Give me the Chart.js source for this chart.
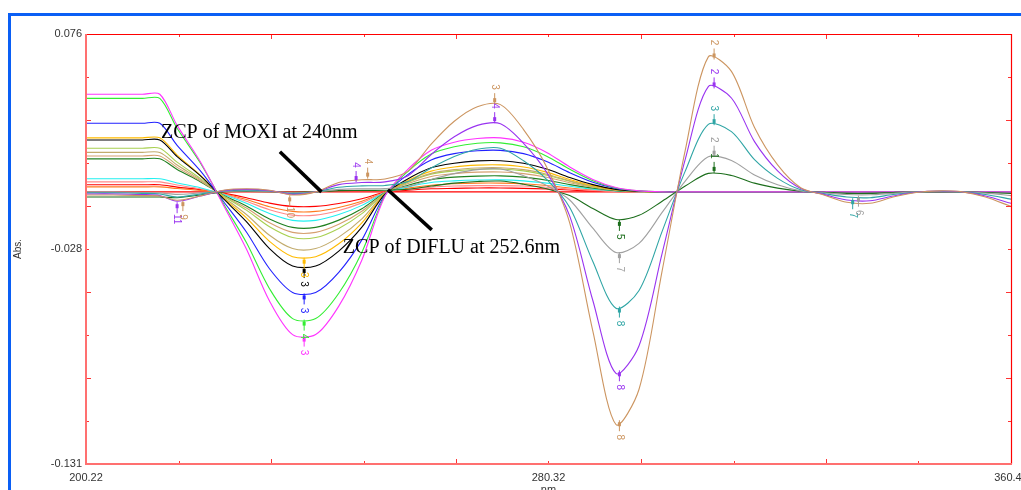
<!DOCTYPE html>
<html>
<head>
<meta charset="utf-8">
<script src="https://cdn.jsdelivr.net/npm/chart.js@4.4.1/dist/chart.umd.min.js"></script>
<style>
  html, body { margin: 0; padding: 0; background: #fff; overflow: hidden; }
  #wrap { position: relative; width: 1021px; height: 500px; }
</style>
</head>
<body>
<div id="wrap"><canvas id="chart" width="1021" height="500"></canvas></div>
<script>
// wavelength grid (nm)
const wavelengths = [200.22, 205, 210, 213, 216, 220, 224, 228, 232, 236, 240, 244, 248, 252, 256, 260, 264, 268, 272, 276,
  280, 284, 288, 292, 296, 300, 304, 308, 312, 316, 320, 324, 328, 332, 336, 340, 344, 348, 352, 356, 360.42];

const xTickValues = [200.22, 280.32, 360.42];
const xTickLabels = ['200.22', '280.32', '360.42'];
const yTickValues = [0.076, -0.0275, -0.131];
const yTickLabels = ['0.076', '-0.028', '-0.131'];

// MOXI derivative spectra
const moxiTan = [-.0015, -.0015, -.0018, -.002, -.004, -.002, .0008, .0015, .0008, -.0015, 0, .0045, .0058, .0062, .010, .023, .034, .041, .042, .030,
  .012, -.015, -.067, -.112, -.095, -.038, .020, .065, .058, .031, .013, .002, -.0015, -.005, -.0055, -.0025, -.0003, .0005, 0, -.0025, -.007];
const moxiPurple = [-.001, -.001, -.0013, -.0018, -.0045, -.002, .0006, .0012, .0006, -.0012, 0, .0035, .0045, .0048, .0078, .018, .0265, .032, .0328, .0234,
  .0094, -.0117, -.0523, -.0874, -.0741, -.0296, .0156, .0507, .0452, .0242, .0101, .0016, -.0012, -.0039, -.0043, -.002, -.0002, .0004, 0, -.002, -.0055];
const moxiTeal = [-.0005, -.0005, -.0007, -.001, -.0025, -.001, .0004, .0008, .0004, -.0008, 0, .0022, .0029, .0031, .005, .0115, .017, .0205, .021, .015,
  .006, -.0075, -.0335, -.056, -.0475, -.019, .010, .0325, .029, .0155, .0065, .001, -.0008, -.0025, -.0028, -.0013, -.0002, .0003, 0, -.0013, -.0035];
const moxiGray = [0, 0, -.0003, -.0005, -.0012, -.0005, .0002, .0004, .0002, -.0004, 0, .0012, .0015, .0016, .0026, .006, .0088, .0107, .011, .0078,
  .0031, -.0039, -.0175, -.0292, -.0248, -.0099, .0052, .0169, .0151, .0081, .0034, .0005, -.0004, -.0013, -.0014, -.0007, 0, .0001, 0, -.0006, -.0018];
const moxiDkGreen = [-.0025, -.0025, -.0025, -.0025, -.0028, -.0015, 0, .0002, .0001, -.0002, 0, .0006, .0007, .0008, .0013, .0028, .0042, .005, .0052, .0037,
  .0015, -.0018, -.008, -.0133, -.0113, -.0045, .0028, .0089, .0079, .0042, .0018, .0003, -.0002, -.0007, -.0007, -.0003, 0, 0, 0, -.0003, -.0008];

// DIFLU derivative spectra
const diMagenta = [.047, .047, .047, .047, .032, .0146, -.0063, -.0275, -.0525, -.0687, -.0687, -.055, -.0328, -.0021, .0109, .020, .0239, .0257, .026, .0239,
  .019, .012, .006, .0021, .0005, 0, 0, 0, 0, 0, 0, 0, 0, 0, 0, 0, 0, 0, 0, 0, 0];
const diGreen = [.045, .045, .045, .045, .0306, .014, -.0056, -.0244, -.0466, -.061, -.061, -.0488, -.0291, -.0019, .0099, .0182, .0217, .0234, .0236, .0217,
  .0172, .0109, .0054, .0019, .0005, 0, 0, 0, 0, 0, 0, 0, 0, 0, 0, 0, 0, 0, 0, 0, 0];
const diBlue = [.033, .033, .033, .033, .0224, .0102, -.0045, -.0193, -.037, -.0484, -.0484, -.0387, -.0231, -.0015, .0084, .0154, .0184, .0198, .020, .0184,
  .0146, .0092, .0046, .0016, .0004, 0, 0, 0, 0, 0, 0, 0, 0, 0, 0, 0, 0, 0, 0, 0, 0];
const diGold = [.026, .026, .026, .026, .0177, .0081, -.0029, -.0125, -.0238, -.0312, -.0312, -.025, -.0149, -.001, .0055, .010, .012, .0129, .013, .012,
  .0095, .006, .003, .001, .0003, 0, 0, 0, 0, 0, 0, 0, 0, 0, 0, 0, 0, 0, 0, 0, 0];
const diBlack = [.025, .025, .025, .025, .017, .0078, -.0033, -.0143, -.0273, -.0357, -.0357, -.0285, -.017, -.0011, .0063, .0116, .0138, .0149, .015, .0138,
  .011, .0069, .0035, .0012, .0003, 0, 0, 0, 0, 0, 0, 0, 0, 0, 0, 0, 0, 0, 0, 0, 0];
const diKhaki = [.019, .019, .019, .019, .0129, .0059, -.0025, -.0109, -.0209, -.0273, -.0273, -.0218, -.013, -.0008, .0049, .0089, .0107, .0115, .0116, .0107,
  .0085, .0053, .0027, .0009, .0002, 0, 0, 0, 0, 0, 0, 0, 0, 0, 0, 0, 0, 0, 0, 0, 0];
const diYellowGreen = [.021, .021, .021, .021, .0143, .0065, -.002, -.0088, -.0168, -.022, -.022, -.0176, -.0105, -.0007, .0046, .0085, .0101, .0109, .011, .0101,
  .008, .0051, .0025, .0009, .0002, 0, 0, 0, 0, 0, 0, 0, 0, 0, 0, 0, 0, 0, 0, 0, 0];
const diTan = [.0173, .0173, .0173, .0173, .0118, .0054, -.0018, -.0078, -.0149, -.0195, -.0195, -.0156, -.0093, -.0006, .004, .0074, .0088, .0095, .0096, .0088,
  .007, .0044, .0022, .0008, .0002, 0, 0, 0, 0, 0, 0, 0, 0, 0, 0, 0, 0, 0, 0, 0, 0];
const diDkGreen = [.0159, .0159, .0159, .0159, .0108, .0049, -.0016, -.0068, -.013, -.0171, -.0171, -.0136, -.0081, -.0005, .0032, .0059, .0071, .0076, .0077, .0071,
  .0056, .0035, .0018, .0006, .0002, 0, 0, 0, 0, 0, 0, 0, 0, 0, 0, 0, 0, 0, 0, 0, 0];
const diCyan = [.0063, .0063, .0063, .0063, .0043, .002, -.0013, -.0055, -.0104, -.0137, -.0137, -.0109, -.0065, -.0004, .0024, .0045, .0053, .0057, .0058, .0053,
  .0042, .0027, .0013, .0005, .0001, 0, 0, 0, 0, 0, 0, 0, 0, 0, 0, 0, 0, 0, 0, 0, 0];
const diSalmon = [.0048, .0048, .0048, .0048, .0033, .0015, -.001, -.0045, -.0086, -.0112, -.0112, -.009, -.0053, -.0003, .0013, .0023, .0028, .003, .003, .0028,
  .0022, .0014, .0007, .0002, 0, 0, 0, 0, 0, 0, 0, 0, 0, 0, 0, 0, 0, 0, 0, 0, 0];
const diOrange = [.0024, .0024, .0024, .0024, .0016, .0007, -.0009, -.0037, -.0072, -.0094, -.0094, -.0075, -.0045, -.0003, .0018, .0032, .0039, .0042, .0042, .0039,
  .0031, .0019, .001, .0003, .0001, 0, 0, 0, 0, 0, 0, 0, 0, 0, 0, 0, 0, 0, 0, 0, 0];
const diRed = [.0034, .0034, .0034, .0034, .0023, .0011, -.0006, -.0028, -.0054, -.007, -.007, -.0056, -.0033, -.0002, .0008, .0015, .0017, .0019, .0019, .0017,
  .0014, .0009, .0004, .0002, 0, 0, 0, 0, 0, 0, 0, 0, 0, 0, 0, 0, 0, 0, 0, 0, 0];
const blank = [0, 0, 0, 0, 0, 0, 0, 0, 0, 0, 0, 0, 0, 0, 0, 0, 0, 0, 0, 0,
  0, 0, 0, 0, 0, 0, 0, 0, 0, 0, 0, 0, 0, 0, 0, 0, 0, 0, 0, 0, 0];

// first entry is drawn on top
const series = [
  ['moxiTan', moxiTan, '#cc9560'],
  ['moxiPurple', moxiPurple, '#9933f0'],
  ['moxiTeal', moxiTeal, '#2fa5a5'],
  ['moxiGray', moxiGray, '#a0a0a0'],
  ['moxiDkGreen', moxiDkGreen, '#1c6e1c'],
  ['diMagenta', diMagenta, '#ff33ff'],
  ['diGreen', diGreen, '#33ee33'],
  ['diBlue', diBlue, '#2222ff'],
  ['diBlack', diBlack, '#000000'],
  ['diGold', diGold, '#ffbb00'],
  ['diKhaki', diKhaki, '#c2ab6c'],
  ['diYellowGreen', diYellowGreen, '#a8d050'],
  ['diTan', diTan, '#d6a070'],
  ['diDkGreen', diDkGreen, '#208020'],
  ['diCyan', diCyan, '#22f0f0'],
  ['diSalmon', diSalmon, '#ff8a8a'],
  ['diOrange', diOrange, '#ff7a20'],
  ['diRed', diRed, '#ff0000'],
  ['blank', blank, '#ff0000']
];

// peak-pick labels: series, wavelength, label, 1 = peak / -1 = valley
const pickMarks = [
  ['moxiTan', 309, '2', 1], ['moxiPurple', 309, '2', 1], ['moxiTeal', 309, '3', 1], ['moxiGray', 309, '2', 1], ['moxiDkGreen', 309, '1', 1],
  ['moxiTan', 292.6, '8', -1], ['moxiPurple', 292.6, '8', -1], ['moxiTeal', 292.6, '8', -1], ['moxiGray', 292.6, '7', -1], ['moxiDkGreen', 292.6, '5', -1],
  ['moxiTan', 271, '3', 1], ['moxiPurple', 271, '4', 1],
  ['moxiPurple', 216, '11', -1], ['moxiTan', 217, '9', -1],
  ['moxiPurple', 247, '4', 1], ['moxiTan', 249, '4', 1],
  ['moxiTan', 235.5, '10', -1],
  ['moxiTeal', 333, '7', -1], ['moxiGray', 334, '6', -1],
  ['diMagenta', 238, '3', -1], ['diGreen', 238, '4', -1], ['diBlue', 238, '3', -1], ['diBlack', 238, '3', -1], ['diGold', 238, '3', -1]
];

// zero crossing notes
const zcpNotes = [
  ['ZCP of MOXI at 240nm', 213.2, 0.026],
  ['ZCP of DIFLU at 252.6nm', 244.7, -0.0294]
];
const zcpPointers = [
  [233.8, 0.0193, 241.0, 0],
  [252.5, 0.001, 260.1, -0.0183]
];

function valueAt(vals, nm) {
  for (let i = 0; i < wavelengths.length - 1; i++) {
    if (nm >= wavelengths[i] && nm <= wavelengths[i + 1]) {
      const t = (nm - wavelengths[i]) / (wavelengths[i + 1] - wavelengths[i]);
      return vals[i] + (vals[i + 1] - vals[i]) * t;
    }
  }
  return 0;
}

const framePlugin = {
  id: 'frame',
  afterDatasetsDraw(chart) {
    const {ctx, chartArea: a, scales} = chart;
    ctx.save();
    // inward ticks
    ctx.strokeStyle = '#ff3333';
    ctx.lineWidth = 1;
    for (let i = 1; i < 10; i++) {
      const len = i % 2 === 0 ? 5 : 3;
      const x = Math.round(scales.x.getPixelForValue(200.22 + 16.02 * i)) + 0.5;
      const y = Math.round(scales.y.getPixelForValue(0.076 - 0.0207 * i)) + 0.5;
      ctx.beginPath();
      ctx.moveTo(x, a.bottom); ctx.lineTo(x, a.bottom - len);
      ctx.moveTo(x, a.top); ctx.lineTo(x, a.top + len);
      ctx.moveTo(a.left, y); ctx.lineTo(a.left + len, y);
      ctx.moveTo(a.right, y); ctx.lineTo(a.right - len, y);
      ctx.stroke();
    }
    // top and right border
    ctx.strokeStyle = '#ff0000';
    ctx.lineWidth = 1.2;
    ctx.beginPath();
    ctx.moveTo(a.left, a.top + 0.5); ctx.lineTo(a.right + 0.5, a.top + 0.5); ctx.lineTo(a.right + 0.5, a.bottom);
    ctx.stroke();
    // left and bottom axis
    ctx.strokeStyle = '#ff7070';
    ctx.lineWidth = 2;
    ctx.beginPath();
    ctx.moveTo(a.left, a.top); ctx.lineTo(a.left, a.bottom); ctx.lineTo(a.right + 1, a.bottom);
    ctx.stroke();

    // peak-pick markers
    ctx.font = '10px "Liberation Sans", Arial, sans-serif';
    ctx.textAlign = 'center';
    ctx.textBaseline = 'middle';
    pickMarks.forEach(([key, nm, text, dir]) => {
      const s = series.find(d => d[0] === key);
      const px = scales.x.getPixelForValue(nm);
      const py = scales.y.getPixelForValue(valueAt(s[1], nm));
      ctx.strokeStyle = s[2];
      ctx.fillStyle = s[2];
      ctx.lineWidth = 1;
      ctx.beginPath();
      ctx.moveTo(px, py - dir * 1);
      ctx.lineTo(px, py - dir * 12);
      ctx.stroke();
      ctx.fillRect(px - 1.5, py - dir * 5 - 2, 3, 4);
      ctx.save();
      ctx.translate(px, py - dir * 18);
      ctx.rotate(Math.PI / 2);
      ctx.fillText(text, 0, 0);
      ctx.restore();
    });

    // zero crossing pointers and notes
    ctx.strokeStyle = '#000';
    ctx.lineWidth = 3.5;
    zcpPointers.forEach(([x1, y1, x2, y2]) => {
      ctx.beginPath();
      ctx.moveTo(scales.x.getPixelForValue(x1), scales.y.getPixelForValue(y1));
      ctx.lineTo(scales.x.getPixelForValue(x2), scales.y.getPixelForValue(y2));
      ctx.stroke();
    });
    ctx.fillStyle = '#000';
    ctx.font = '20px "Liberation Serif", "Times New Roman", serif';
    ctx.textAlign = 'left';
    ctx.textBaseline = 'alphabetic';
    zcpNotes.forEach(([text, nm, v]) => {
      ctx.fillText(text, scales.x.getPixelForValue(nm), scales.y.getPixelForValue(v));
    });
    ctx.restore();
  },
  afterDraw(chart) {
    // blue outer frame
    const ctx = chart.ctx;
    ctx.save();
    ctx.strokeStyle = '#0a5ff5';
    ctx.lineWidth = 3;
    ctx.beginPath();
    ctx.moveTo(9.5, 520); ctx.lineTo(9.5, 14.5); ctx.lineTo(1030, 14.5);
    ctx.stroke();
    ctx.restore();
  }
};

const tickFont = {family: '"Liberation Sans", Arial, sans-serif', size: 11};

new Chart(document.getElementById('chart'), {
  type: 'line',
  data: {
    datasets: series.map(([key, vals, color]) => ({
      label: key,
      data: vals.map((v, i) => ({x: wavelengths[i], y: v})),
      borderColor: color,
      borderWidth: 1.1,
      pointRadius: 0,
      tension: 0.3,
      fill: false
    }))
  },
  options: {
    responsive: false,
    animation: false,
    layout: {padding: {left: 0, top: 34, right: 10, bottom: 0}},
    plugins: {legend: {display: false}, tooltip: {enabled: false}},
    scales: {
      x: {
        type: 'linear', min: 200.22, max: 360.42,
        afterBuildTicks: s => { s.ticks = xTickValues.map(v => ({value: v})); },
        afterFit: s => { s.height = 36; s.paddingLeft = 0; s.paddingRight = 0; },
        ticks: {autoSkip: false, maxRotation: 0, padding: 7, color: '#333', font: tickFont,
          callback: (v, i) => xTickLabels[i]},
        grid: {display: false, drawTicks: false},
        border: {display: false},
        title: {display: true, text: 'nm', color: '#333', font: tickFont, padding: {top: 0, bottom: 3}}
      },
      y: {
        min: -0.131, max: 0.076,
        afterBuildTicks: s => { s.ticks = yTickValues.map(v => ({value: v})); },
        afterFit: s => { s.width = 86; s.paddingTop = 0; s.paddingBottom = 0; },
        ticks: {autoSkip: false, padding: 4, color: '#333', font: tickFont,
          callback: (v, i) => yTickLabels[i]},
        grid: {display: false, drawTicks: false},
        border: {display: false},
        title: {display: true, text: 'Abs.', color: '#333', font: {family: tickFont.family, size: 10}, padding: {top: 12, bottom: 0}}
      }
    }
  },
  plugins: [framePlugin]
});
</script>
</body>
</html>
